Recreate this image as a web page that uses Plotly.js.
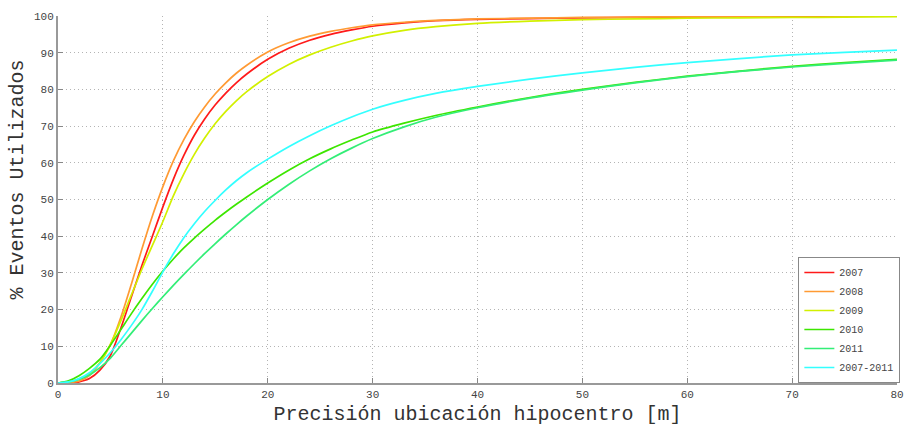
<!DOCTYPE html>
<html>
<head>
<meta charset="utf-8">
<script src="https://cdn.plot.ly/plotly-3.0.1.min.js"></script>
<style>
  html, body { margin: 0; padding: 0; background: #fff; }
  #chart { width: 904px; height: 426px; }
</style>
</head>
<body>
<div id="chart"></div>
<script>
const xPrecision = [0,1,2,3,4,5,6,7,8,9,10,11,12,13,14,15,16,17,18,20,22,24,26,28,30,33,36,40,45,50,55,60,65,70,75,80];

const y2007 = [0,0,0.3,1.2,3.5,7.5,15,23.5,32,40,48,55.5,62,67.5,72,75.8,79,81.8,84.2,88.2,91.2,93.4,95,96.2,97.2,98.1,98.7,99.1,99.3,99.5,99.6,99.7,99.8,99.9,100,100];
const y2008 = [0,0.1,0.5,2,5.5,10.5,18,27,36.5,45.5,53.5,60.5,66.3,71.2,75.3,78.8,81.8,84.4,86.6,90.2,92.7,94.5,95.8,96.8,97.6,98.3,98.8,99.2,99.4,99.6,99.7,99.8,99.9,100,100,100];
const y2009 = [0,0.3,1,2.5,5.5,10.5,17,24,31,37.5,44,51,57,62.3,66.8,70.7,74,76.9,79.4,83.5,86.8,89.4,91.5,93.2,94.6,96.1,97.1,98,98.6,99,99.2,99.4,99.5,99.6,99.7,99.8];
const y2010 = [0,0.6,2,4,6.5,10.3,14.6,18.9,23,26.9,30.5,33.8,36.8,39.5,42,44.4,46.6,48.7,50.7,54.5,58,61.1,63.8,66.2,68.4,70.8,72.9,75.2,77.8,80,81.9,83.6,85,86.3,87.3,88.2];
const y2011 = [0,0.3,1,2.2,4.2,6.8,10.2,13.6,17,20.3,23.5,26.6,29.6,32.5,35.3,38,40.6,43.1,45.5,50,54.1,57.8,61.1,64,66.6,69.8,72.4,75,77.6,79.8,81.8,83.5,84.9,86.1,87.1,88];
const y20072011 = [0,0.3,1.2,2.8,5.3,8.3,11.8,15.7,20,25,30.3,35.2,39.6,43.4,46.8,49.8,52.6,55.1,57.3,61,64.4,67.4,70.1,72.5,74.6,77,78.9,80.8,82.8,84.5,86,87.3,88.4,89.4,90.1,90.7];

const seriesNames = ['2007','2008','2009','2010','2011','2007-2011'];
const seriesValues = [y2007, y2008, y2009, y2010, y2011, y20072011];
const seriesColors = ['#ff1a1a','#ff9a33','#d2f000','#3de600','#33ee77','#33ffff'];

const xTicks = [0,10,20,30,40,50,60,70,80];
const yTicks = [0,10,20,30,40,50,60,70,80,90,100];
const yTitle = '% Eventos Utilizados';
const xTitle = 'Precisión ubicación hipocentro [m]';

const FONT = 'Liberation Mono, Courier New, monospace';

const traces = seriesNames.map((name, i) => ({
  type: 'scatter',
  mode: 'lines',
  name: name,
  x: xPrecision,
  y: seriesValues[i],
  line: { color: seriesColors[i], width: 1.7, shape: 'spline', smoothing: 0.8 }
}));

const axisCommon = {
  ticks: 'inside',
  ticklen: 5,
  tickcolor: '#888888',
  tickwidth: 1,
  showline: true,
  linecolor: '#999999',
  linewidth: 2,
  showgrid: true,
  gridcolor: '#b4b4b4',
  griddash: '1px,3px',
  gridwidth: 1,
  zeroline: false,
  ticklabeloverflow: 'allow',
  tickfont: { family: FONT, size: 11, color: '#444444' }
};

const layout = {
  width: 904,
  height: 426,
  margin: { l: 58, r: 4, t: 16, b: 43 },
  paper_bgcolor: '#ffffff',
  plot_bgcolor: '#ffffff',
  showlegend: true,
  font: { family: FONT, size: 11, color: '#444444' },
  xaxis: Object.assign({}, axisCommon, {
    range: [0, 80],
    tickvals: xTicks,
    ticktext: xTicks.map(String),
    title: { text: xTitle, font: { family: FONT, size: 20, color: '#333333' }, standoff: 6 }
  }),
  yaxis: Object.assign({}, axisCommon, {
    range: [0, 100],
    tickvals: yTicks,
    ticktext: yTicks.map(String)
  }),
  annotations: [{
    text: yTitle,
    xref: 'paper', yref: 'paper',
    x: -0.0487, y: 0.555,
    xanchor: 'center', yanchor: 'middle',
    textangle: -90,
    showarrow: false,
    font: { family: FONT, size: 20, color: '#333333' }
  }],
  legend: {
    x: 1.004, xanchor: 'right', y: 0, yanchor: 'bottom',
    bgcolor: '#ffffff',
    bordercolor: '#888888',
    borderwidth: 1,
    font: { family: FONT, size: 10, color: '#444444' },
    tracegroupgap: 0,
    itemwidth: 30
  }
};

Plotly.newPlot('chart', traces, layout, { staticPlot: true, displayModeBar: false });
</script>
</body>
</html>
